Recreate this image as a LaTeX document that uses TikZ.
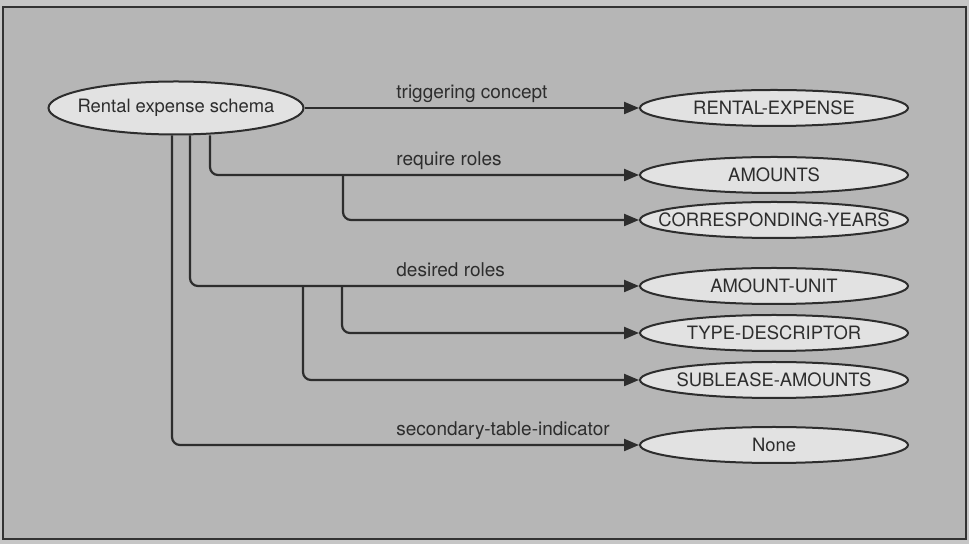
\documentclass[tikz,border=0pt]{standalone}
\usepackage{fontspec}
\setmainfont{TeX Gyre Heros}
\usepackage{xcolor}
\usetikzlibrary{arrows.meta, positioning, shapes.geometric}

\definecolor{pagegray}{RGB}{198,198,198}
\definecolor{panelgray}{RGB}{182,182,182}
\definecolor{ovalfill}{RGB}{226,226,226}
\definecolor{inkgray}{RGB}{45,45,45}

\begin{document}
\begin{tikzpicture}[
    x=0.5pt, y=-0.5pt,
    >={Triangle[length=7.5pt,width=6pt]},
    font=\fontsize{9.2}{11}\selectfont,
    oval/.style   = {ellipse, draw=inkgray, line width=1pt, fill=ovalfill,
                     inner sep=0pt, text=inkgray,
                     execute at begin node={\hbox to 0pt\bgroup\hss},
                     execute at end node={\hss\egroup}},
    schema/.style = {oval, minimum width=127.5pt, minimum height=26.5pt},
    role/.style   = {oval, minimum width=134pt, minimum height=18pt},
    link/.style   = {->, draw=inkgray, line width=1.1pt, rounded corners=4pt},
    lbl/.style    = {anchor=base west, inner sep=0pt, yshift=4.5pt,
                     text=inkgray, font=\fontsize{9.5}{11}\selectfont},
]

% panel
\fill[pagegray] (0,0) rectangle (969,544);
\filldraw[fill=panelgray, draw=black!80, line width=1pt] (3,7) rectangle (966,539);
\useasboundingbox (0,0) rectangle (969,544);

\node[schema] (schema) at (176,108) {Rental expense schema};

\node[role] (rentexp)   at (774,108) {RENTAL-EXPENSE};
\node[role] (amounts)   at (774,175) {AMOUNTS};
\node[role] (corryears) at (774,220) {CORRESPONDING-YEARS};
\node[role] (amtunit)   at (774,286) {AMOUNT-UNIT};
\node[role] (typedesc)  at (774,333) {TYPE-DESCRIPTOR};
\node[role] (sublease)  at (774,380) {SUBLEASE-AMOUNTS};
\node[role] (nonerole)  at (774,445) {None};

\coordinate (reqfork)  at (amounts.west -| 343,0);
\coordinate (desforkA) at (amtunit.west -| 342,0);
\coordinate (desforkB) at (amtunit.west -| 303,0);

\draw[link] (schema.east) -- (rentexp.west);
\draw[link] ([xshift=17pt]schema.south) |- (amounts.west);
\draw[link] (reqfork) |- (corryears.west);
\draw[link] ([xshift=7pt]schema.south) |- (amtunit.west);
\draw[link] (desforkA) |- (typedesc.west);
\draw[link] (desforkB) |- (sublease.west);
\draw[link] ([xshift=-2pt]schema.south) |- (nonerole.west);

% edge labels, left aligned
\coordinate (lblcol) at (396,0);
\node[lbl] (lbltrig) at (lblcol |- rentexp.west)  {triggering concept};
\node[lbl] (lblreq)  at (lblcol |- amounts.west)  {require roles};
\node[lbl] (lbldes)  at (lblcol |- amtunit.west)  {desired roles};
\node[lbl] (lblsec)  at (lblcol |- nonerole.west) {secondary-table-indicator};

\end{tikzpicture}
\end{document}
